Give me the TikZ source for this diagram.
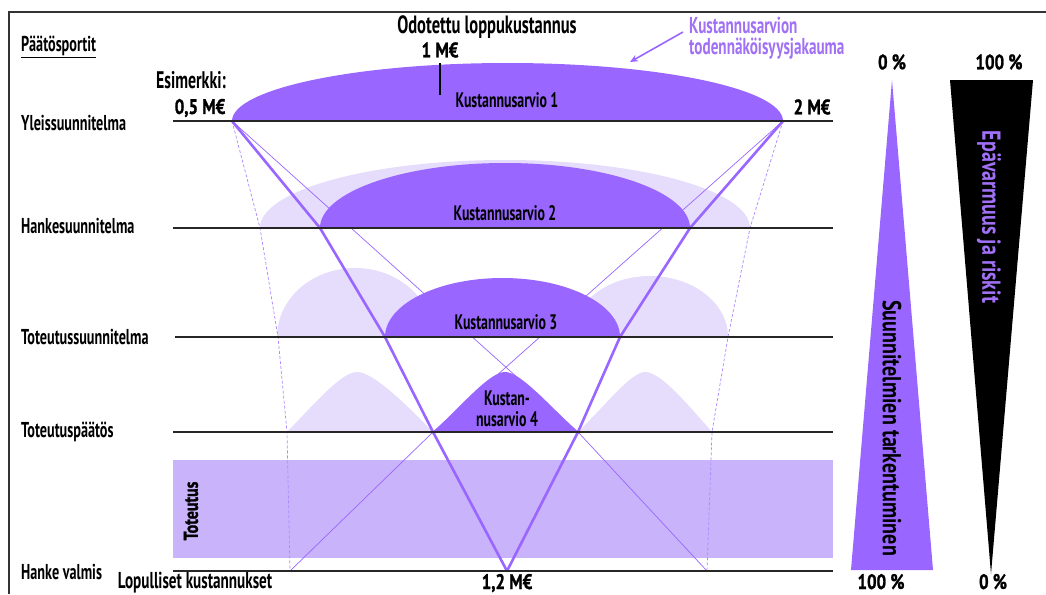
\documentclass[tikz,border=0pt]{standalone}
\usepackage{fontspec}
\setmainfont{PT Sans}[FakeStretch=0.66]
\newfontfamily\strongfont{PT Sans}[FakeStretch=0.8, FakeBold=1.2]
\newfontfamily\widefont{PT Sans}[FakeStretch=0.77]
\usetikzlibrary{arrows.meta}
\definecolor{vio}{HTML}{9966FF}
\definecolor{vlight}{HTML}{E6DCFC}
\definecolor{vband}{HTML}{C9B3FA}
\definecolor{vtext}{HTML}{A070F5}
\definecolor{framec}{HTML}{333333}
\newcommand\halfell[4]{({#1-#3},#2) .. controls ({#1-#3},{#2-0.5523*#4}) and ({#1-0.5523*#3},{#2-#4}) .. (#1,{#2-#4}) .. controls ({#1+0.5523*#3},{#2-#4}) and ({#1+#3},{#2-0.5523*#4}) .. ({#1+#3},#2) -- cycle}
\begin{document}
\begin{tikzpicture}[x=1pt,y=-1pt,
  lbl/.style={inner sep=0pt, font=\fontsize{21.5}{22}\selectfont\bfseries},
  kst/.style={inner sep=0pt, font=\fontsize{21}{21}\selectfont\bfseries},
  bld/.style={inner sep=0pt, font=\fontsize{21}{21}\selectfont\strongfont\bfseries},
  rot/.style={inner sep=0pt, font=\fontsize{26}{26}\selectfont\widefont\bfseries},
  gate/.style={line width=1.6pt, draw=black!85},
  vline/.style={line width=2.6pt, draw=vio, line join=round},
  tline/.style={line width=0.7pt, draw=vio},
  dline/.style={line width=0.7pt, draw=vio!80, dash pattern=on 3pt off 2pt}]
\useasboundingbox (0,0) rectangle (1046,594);
% frame
\draw[framec, line width=1.2pt] (9,594) -- (9,12) -- (1046,12);

% light humps
\fill[vlight] \halfell{505}{228}{245}{68};
\fill[vlight] \halfell{355}{337}{78}{69};
\fill[vlight] \halfell{650}{337}{78}{61};
\fill[vlight] (287,432) .. controls (318,400) and (342,372) .. (357,372) .. controls (372,372) and (402,400) .. (433,432) -- cycle;
\fill[vlight] (578,432) .. controls (610,400) and (632,372) .. (645,372) .. controls (660,372) and (684,400) .. (712,432) -- cycle;

% implementation band
\fill[vband] (173,460) rectangle (833,558);
\node[bld, rotate=90, font=\fontsize{20}{20}\selectfont\strongfont\bfseries] (tot) at (191,511) {Toteutus};

% coordinates
\coordinate (L1) at (232,121); \coordinate (R1) at (783,121);
\coordinate (L2) at (320,228); \coordinate (R2) at (690,228);
\coordinate (L3) at (385,337); \coordinate (R3) at (620,337);
\coordinate (L4) at (433,432); \coordinate (R4) at (578,432);
\coordinate (B) at (507,571);
\coordinate (DL2) at (260,228); \coordinate (DR2) at (750,228);
\coordinate (DL3) at (278,337); \coordinate (DR3) at (728,337);
\coordinate (DL4) at (287,432); \coordinate (DR4) at (712,432);
\coordinate (DL5) at (290,571); \coordinate (DR5) at (707,571);

% thin and dashed lines
\draw[tline] (L1) -- (R4) -- (DR5);
\draw[tline] (R1) -- (L4) -- (DL5);
\draw[dline] (L1) -- (DL2) -- (DL3) -- (DL4) -- (DL5);
\draw[dline] (R1) -- (DR2) -- (DR3) -- (DR4) -- (DR5);

% dark distributions
\fill[vio] \halfell{507.5}{121}{275.5}{58};
\fill[vio] \halfell{505}{228}{185}{65};
\fill[vio] \halfell{502.5}{337}{117.5}{59};
\fill[vio] (433,432) .. controls (465,402) and (490,372) .. (505,372) .. controls (520,372) and (546,402) .. (578,432) -- cycle;

% thick V lines
\draw[vline] (L1) -- (L2) -- (L3) -- (L4) -- (B) -- (R4) -- (R3) -- (R2) -- (R1);

% gate lines
\coordinate (g1a) at (173,121); \coordinate (g1b) at (833,121);
\coordinate (g2a) at (173,228); \coordinate (g2b) at (833,228);
\coordinate (g3a) at (175,337); \coordinate (g3b) at (833,337);
\coordinate (g4a) at (173,432); \coordinate (g4b) at (833,432);
\coordinate (g5a) at (173,571); \coordinate (g5b) at (833,571);
\draw[gate] (g1a) -- (g1b);
\draw[gate] (g2a) -- (g2b);
\draw[gate] (g3a) -- (g3b);
\draw[gate] (g4a) -- (g4b);
\draw[gate] (g5a) -- (g5b);

% left labels
\node[lbl, anchor=west] (pp) at (21,46) {Päätösportit};
\draw[line width=0.9pt] ([yshift=-1pt]pp.south west) -- ([yshift=-1pt]pp.south east);
\node[lbl, anchor=west] (n1) at (21,123) {Yleissuunnitelma};
\node[lbl, anchor=west] (n2) at (21,226) {Hankesuunnitelma};
\node[lbl, anchor=west] (n3) at (21,337) {Toteutussuunnitelma};
\node[lbl, anchor=west] (n4) at (21,432) {Toteutuspäätös};
\node[lbl, anchor=west] (n5) at (21,572) {Hanke valmis};
\node[lbl, anchor=base, font=\fontsize{23}{23}\selectfont\bfseries] (lop) at (195,588) {Lopulliset kustannukset};

% top texts
\node[lbl, font=\fontsize{24}{24}\selectfont\bfseries] (esim) at (191,80) {Esimerkki:};
\node[bld] (m05) at (200,108) {0,5 M€};
\node[bld] (m2) at (812,107) {2 M€};
\node[lbl, font=\fontsize{25}{25}\selectfont\bfseries] (odo) at (487,27) {Odotettu loppukustannus};
\node[bld] (m1) at (440,50) {1 M€};
\coordinate (tk1) at (440,63); \coordinate (tk2) at (440,95);
\draw[line width=2pt] (tk1) -- (tk2);
\node[bld, anchor=base] (m12) at (507,589) {1,2 M€};

\node[kst] (k1) at (507,100) {Kustannusarvio 1};
\node[kst] (k2) at (505,213) {Kustannusarvio 2};
\node[kst] (k3) at (506,322) {Kustannusarvio 3};
\node[kst, align=center] (k4) at (507,409) {Kustan-\\nusarvio 4};

% purple legend
\node[lbl, anchor=north west, align=left, text=vtext, font=\fontsize{23}{21}\selectfont\bfseries] (leg) at (689,17) {Kustannusarvion\\todennäköisyysjakauma};
\coordinate (ar1) at (683,32); \coordinate (ar2) at (630,62);
\draw[vio, line width=1.6pt, -{Stealth[length=8pt,width=7pt]}] (ar1) -- (ar2);

% right triangles
\node[bld] (p0) at (892,62) {0 \%};
\node[bld] (p100) at (999,62) {100 \%};
\fill[vio] (892,80) -- (933,570) -- (851,570) -- cycle;
\fill[black] (950,80) -- (1033,80) -- (991,574) -- cycle;
\node[rot, rotate=-90] (suun) at (892,428) {Suunnitelmien tarkentuminen};
\node[rot, rotate=-90, text=vtext] (epa) at (989,217) {Epävarmuus ja riskit};
\node[bld, anchor=base] (q100) at (881,589) {100 \%};
\node[bld, anchor=base] (q0) at (993,589) {0 \%};
\end{tikzpicture}
\end{document}
